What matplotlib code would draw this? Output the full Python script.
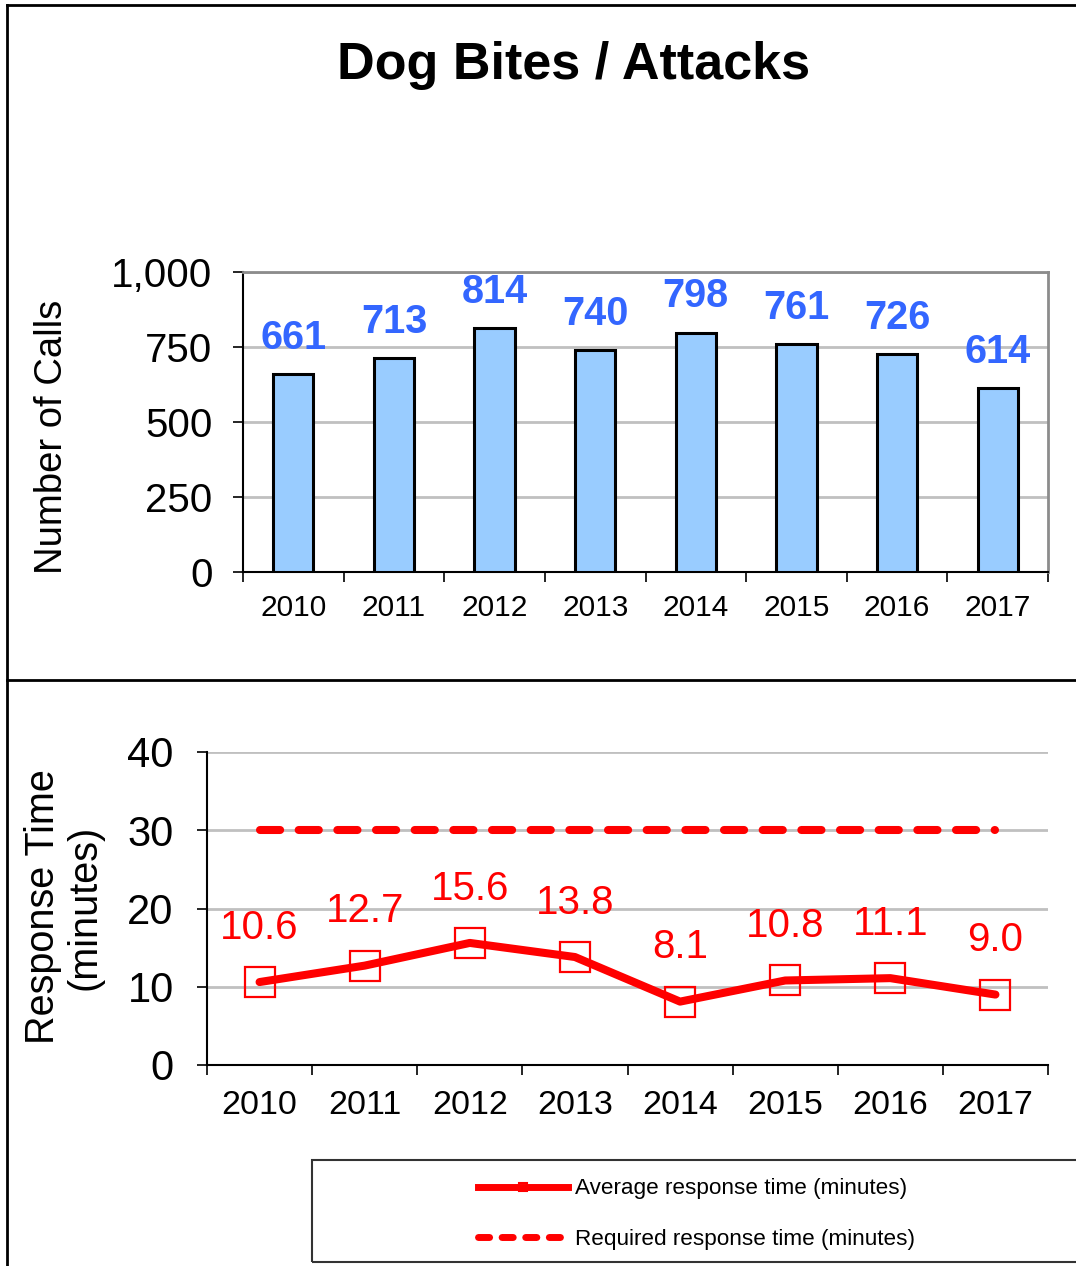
import matplotlib.pyplot as plt
import numpy as np
from matplotlib.lines import Line2D

plt.rcParams['font.family'] = ['Liberation Sans', 'DejaVu Sans']

years = ['2010', '2011', '2012', '2013', '2014', '2015', '2016', '2017']
calls = [661, 713, 814, 740, 798, 761, 726, 614]
avg_response = [10.6, 12.7, 15.6, 13.8, 8.1, 10.8, 11.1, 9.0]
required_response = [30, 30, 30, 30, 30, 30, 30, 30]

W, H = 1076, 1266
fig = plt.figure(figsize=(W / 100, H / 100), dpi=100)

def fx(px):
    return px / W

def fy(py):
    return 1 - py / H

grid_color = '#C0C0C0'
x = np.arange(len(years))

# ---- top panel: number of calls
ax1 = fig.add_axes([fx(243), fy(572), fx(1048) - fx(243), fy(272) - fy(572)])
ax1.bar(x, calls, width=0.4, color='#99CCFF', edgecolor='black', linewidth=2.2, zorder=3)
for xi, v in zip(x, calls):
    ax1.annotate(f'{v}', (xi, v), xytext=(0, 26), textcoords='offset points',
                 ha='center', va='center', fontsize=28.5, fontweight='bold', color='#3366FF')
ax1.set_xlim(-0.5, len(years) - 0.5)
ax1.set_ylim(0, 1000)
ax1.set_yticks([0, 250, 500, 750, 1000])
ax1.set_yticklabels(['0', '250', '500', '750', '1,000'])
ax1.set_xticks(x)
ax1.set_xticklabels(years)
ax1.set_xticks(np.arange(len(years) + 1) - 0.5, minor=True)
ax1.tick_params(axis='x', which='major', length=0, pad=16, labelsize=21.5)
ax1.tick_params(axis='x', which='minor', length=7, width=1.2, direction='out')
ax1.tick_params(axis='y', length=7, width=1.2, pad=15, labelsize=29)
ax1.yaxis.grid(True, color=grid_color, linewidth=2, zorder=0)
ax1.set_axisbelow(True)
for s in ['left', 'bottom']:
    ax1.spines[s].set_linewidth(1.5)
    ax1.spines[s].set_color('black')
for s in ['top', 'right']:
    ax1.spines[s].set_linewidth(2)
    ax1.spines[s].set_color('#8C8C8C')
fig.text(fx(52), fy(437), 'Number of Calls', rotation=90, ha='center', va='center', fontsize=27.5)

fig.text(fx(574), fy(65), 'Dog Bites / Attacks', ha='center', va='center',
         fontsize=37.5, fontweight='bold')

# ---- bottom panel: response time
ax2 = fig.add_axes([fx(207), fy(1065), fx(1048) - fx(207), fy(752) - fy(1065)])
ax2.plot(x, required_response, color='red', linewidth=5.8, dash_capstyle='round',
         dashes=(2.5, 2.3), zorder=3)
ax2.plot(x, avg_response, color='red', linewidth=5.8, solid_joinstyle='round',
         solid_capstyle='round', marker='s', markersize=21, markerfacecolor='none',
         markeredgecolor='red', markeredgewidth=1.6, zorder=4)
for xi, v in zip(x, avg_response):
    ax2.annotate(f'{v:.1f}', (xi, v), xytext=(0, 39), textcoords='offset points',
                 ha='center', va='center', fontsize=29, color='red')
ax2.set_xlim(-0.5, len(years) - 0.5)
ax2.set_ylim(0, 40)
ax2.set_yticks([0, 10, 20, 30, 40])
ax2.set_xticks(x)
ax2.set_xticklabels(years)
ax2.set_xticks(np.arange(len(years) + 1) - 0.5, minor=True)
ax2.tick_params(axis='x', which='major', length=0, pad=18, labelsize=24.5)
ax2.tick_params(axis='x', which='minor', length=7, width=1.2, direction='out')
ax2.tick_params(axis='y', length=7, width=1.2, pad=17, labelsize=30)
ax2.yaxis.grid(True, color=grid_color, linewidth=2, zorder=0)
ax2.set_axisbelow(True)
for s in ['left', 'bottom']:
    ax2.spines[s].set_linewidth(1.5)
for s in ['top', 'right']:
    ax2.spines[s].set_visible(False)
fig.text(fx(64), fy(907), 'Response Time\n(minutes)', rotation=90, ha='center', va='center',
         fontsize=28.5, linespacing=1.12)

# legend with its own box
box = plt.Rectangle((fx(312), fy(1262)), fx(1080) - fx(312), fy(1160) - fy(1262),
                    transform=fig.transFigure, fill=False, edgecolor='#333333', linewidth=1.5)
fig.add_artist(box)
handles = [
    Line2D([], [], color='red', linewidth=5, marker='s', markersize=6,
           markerfacecolor='none', markeredgecolor='red', markeredgewidth=1.5),
    Line2D([], [], color='red', linewidth=5, dash_capstyle='round', dashes=(1.6, 1.8)),
]
fig.legend(handles, ['Average response time (minutes)', 'Required response time (minutes)'],
           loc='center left', bbox_to_anchor=(fx(478), fy(1214)), frameon=False,
           prop={'family': ['Liberation Sans Narrow', 'Liberation Sans'], 'size': 16.2},
           handlelength=4.0, handletextpad=0.3, labelspacing=1.3, borderpad=0, borderaxespad=0)

# outer border and divider
lw = 2
fig.add_artist(Line2D([fx(7), fx(7)], [fy(5), 0], transform=fig.transFigure, color='black', linewidth=lw))
fig.add_artist(Line2D([fx(7), 1], [fy(5), fy(5)], transform=fig.transFigure, color='black', linewidth=lw))
fig.add_artist(Line2D([fx(7), 1], [fy(680), fy(680)], transform=fig.transFigure, color='black', linewidth=lw))

fig.savefig('out.png', dpi=100)
